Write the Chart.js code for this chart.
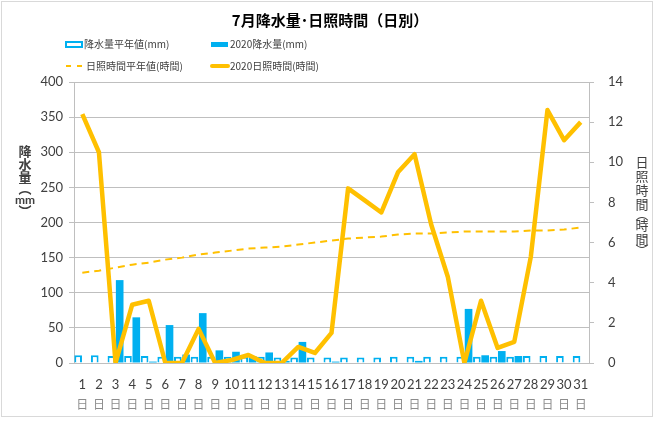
<!DOCTYPE html>
<html lang="ja">
<head>
<meta charset="utf-8">
<title>7月降水量・日照時間(日別)</title>
<script src="https://cdn.jsdelivr.net/npm/chart.js@4.4.1/dist/chart.umd.min.js"></script>
<style>
    html, body { margin: 0; padding: 0; background: #ffffff; }
    #wrap { position: relative; width: 660px; height: 421px; }
</style>
</head>
<body>
<div id="wrap"><canvas id="chart" width="660" height="421"></canvas></div>
<script>
'use strict';

const days = ['1', '2', '3', '4', '5', '6', '7', '8', '9', '10', '11', '12', '13', '14', '15', '16',
    '17', '18', '19', '20', '21', '22', '23', '24', '25', '26', '27', '28', '29', '30', '31'];
const dayMarks = days.map(() => '日');

const precipNormal = [11, 11, 10, 10, 10, 9, 9, 9, 9, 9, 9, 9, 8, 8, 8, 8,
    8, 8, 8, 9, 9, 9, 9, 9, 9, 9, 9, 10, 10, 10, 10];
const precip2020 = [0, 0, 118, 65, 2, 54, 12, 71, 18, 16, 10, 15, 3, 30, 0, 2,
    0, 0, 0, 0, 3, 0, 0, 77, 11, 17, 10, 0, 0, 0, 0];
const sunNormal = [4.5, 4.6, 4.75, 4.9, 5.0, 5.15, 5.25, 5.4, 5.5, 5.6, 5.7, 5.75, 5.8, 5.9, 6.0, 6.1,
    6.2, 6.25, 6.3, 6.4, 6.45, 6.45, 6.5, 6.55, 6.55, 6.55, 6.55, 6.6, 6.6, 6.65, 6.75];
const sun2020 = [12.4, 10.5, 0, 2.9, 3.1, 0, 0, 1.7, 0, 0.15, 0.4, 0, 0, 0.8, 0.5, 1.5,
    8.7, 8.1, 7.5, 9.5, 10.4, 6.9, 4.3, 0, 3.1, 0.75, 1.05, 5.3, 12.6, 11.1, 12.0];

const legendItems = ['降水量平年値(mm)', '2020降水量(mm)', '日照時間平年値(時間)', '2020日照時間(時間)'];
const chartTitle = '7月降水量･日照時間（日別）';

const BLUE = '#00B0F0';
const GOLD = '#FFC000';
const GRID = '#BFBFBF';
const TEXT = '#404040';
const CJK = '"Noto Sans CJK JP", sans-serif';
const NUM = 'Lato, "Open Sans", sans-serif';

// frame, title, legend and stacked axis titles
const decorations = {
    id: 'decorations',
    beforeDraw(chart) {
        const ctx = chart.ctx;
        ctx.save();
        ctx.fillStyle = '#ffffff';
        ctx.fillRect(0, 0, chart.width, chart.height);
        ctx.strokeStyle = '#D9D9D9';
        ctx.lineWidth = 1;
        ctx.strokeRect(1.5, 1.5, 651, 415);
        ctx.restore();
    },
    afterDraw(chart) {
        const ctx = chart.ctx;
        ctx.save();

        ctx.fillStyle = '#000000';
        ctx.textAlign = 'center';
        ctx.textBaseline = 'middle';
        ctx.font = 'bold 15px ' + CJK;
        ctx.fillText(chartTitle, 330, 20);

        // legend
        ctx.font = '10px ' + CJK;
        ctx.textAlign = 'left';

        ctx.fillStyle = '#ffffff';
        ctx.fillRect(66, 42, 16, 5);
        ctx.strokeStyle = BLUE;
        ctx.lineWidth = 2;
        ctx.strokeRect(66, 42, 16, 5);
        ctx.fillStyle = TEXT;
        ctx.fillText(legendItems[0], 84, 44.5);

        ctx.fillStyle = BLUE;
        ctx.fillRect(211, 42, 17, 5);
        ctx.fillStyle = TEXT;
        ctx.fillText(legendItems[1], 230, 44.5);

        ctx.strokeStyle = GOLD;
        ctx.lineWidth = 2;
        ctx.setLineDash([5, 6]);
        ctx.beginPath();
        ctx.moveTo(66, 66);
        ctx.lineTo(85, 66);
        ctx.stroke();
        ctx.setLineDash([]);
        ctx.fillText(legendItems[2], 86, 66.5);

        ctx.lineWidth = 4;
        ctx.lineCap = 'round';
        ctx.beginPath();
        ctx.moveTo(212, 66);
        ctx.lineTo(228, 66);
        ctx.stroke();
        ctx.lineCap = 'butt';
        ctx.fillText(legendItems[3], 230, 66.5);

        // left axis title, stacked vertically
        ctx.textAlign = 'center';
        ctx.fillStyle = TEXT;
        ctx.font = 'bold 13px ' + CJK;
        const leftStack = [['降', 151], ['水', 164], ['量', 177], ['︵', 188]];
        leftStack.forEach(([ch, y]) => ctx.fillText(ch, 25, y));
        ctx.font = 'bold 12px ' + NUM;
        ctx.fillText('mm', 25, 200);
        ctx.font = 'bold 13px ' + CJK;
        ctx.fillText('︶', 25, 211);

        // right axis title
        ctx.font = '13px ' + CJK;
        const rightStack = [['日', 162], ['照', 176], ['時', 190], ['間', 204], ['︵', 214],
            ['時', 225], ['間', 239], ['︶', 250]];
        rightStack.forEach(([ch, y]) => ctx.fillText(ch, 642, y));

        ctx.restore();
    }
};

const ctx = document.getElementById('chart').getContext('2d');
const chart = new Chart(ctx, {
    type: 'bar',
    data: {
        labels: days,
        datasets: [
            {
                type: 'line',
                label: legendItems[3],
                data: sun2020,
                yAxisID: 'y1',
                borderColor: GOLD,
                borderWidth: 4.5,
                borderJoinStyle: 'round',
                pointRadius: 0,
                tension: 0,
                fill: false,
                order: 0
            },
            {
                type: 'line',
                label: legendItems[2],
                data: sunNormal,
                yAxisID: 'y1',
                borderColor: GOLD,
                borderWidth: 2,
                borderDash: [7, 5],
                pointRadius: 0,
                tension: 0,
                fill: false,
                order: 1
            },
            {
                label: legendItems[0],
                data: precipNormal,
                yAxisID: 'y',
                backgroundColor: '#ffffff',
                borderColor: BLUE,
                borderWidth: 2,
                categoryPercentage: 1.0,
                barPercentage: 0.92,
                order: 2
            },
            {
                label: legendItems[1],
                data: precip2020,
                yAxisID: 'y',
                backgroundColor: BLUE,
                borderWidth: 0,
                categoryPercentage: 1.0,
                barPercentage: 0.92,
                order: 2
            }
        ]
    },
    options: {
        responsive: false,
        animation: false,
        layout: {
            padding: { top: 82, left: 0, right: 0, bottom: 0 }
        },
        plugins: {
            legend: { display: false },
            title: { display: false },
            tooltip: { enabled: false }
        },
        scales: {
            x: {
                position: 'bottom',
                weight: 0,
                grid: { display: false, drawTicks: false },
                border: { display: true, color: GRID },
                ticks: {
                    color: TEXT,
                    padding: 14,
                    maxRotation: 0,
                    autoSkip: false,
                    font: { family: NUM, size: 13 }
                },
                afterFit(scale) { scale.height = 30; }
            },
            x2: {
                type: 'category',
                labels: dayMarks,
                position: 'bottom',
                weight: 1,
                grid: { display: false, drawTicks: false },
                border: { display: false },
                ticks: {
                    color: '#8C8C8C',
                    padding: 4,
                    maxRotation: 0,
                    autoSkip: false,
                    font: { family: CJK, size: 12 }
                },
                afterFit(scale) { scale.height = 28; }
            },
            y: {
                position: 'left',
                min: 0,
                max: 400,
                grid: { color: GRID, tickLength: 5 },
                border: { display: true, color: GRID },
                ticks: {
                    stepSize: 50,
                    color: TEXT,
                    padding: 6,
                    font: { family: NUM, size: 13 }
                },
                afterFit(scale) { scale.width = 74; }
            },
            y1: {
                position: 'right',
                min: 0,
                max: 14,
                grid: { drawOnChartArea: false, color: GRID, tickLength: 5 },
                border: { display: true, color: GRID },
                ticks: {
                    stepSize: 2,
                    color: TEXT,
                    padding: 14,
                    font: { family: NUM, size: 13 }
                },
                afterFit(scale) { scale.width = 71; }
            }
        }
    },
    plugins: [decorations]
});
</script>
</body>
</html>
